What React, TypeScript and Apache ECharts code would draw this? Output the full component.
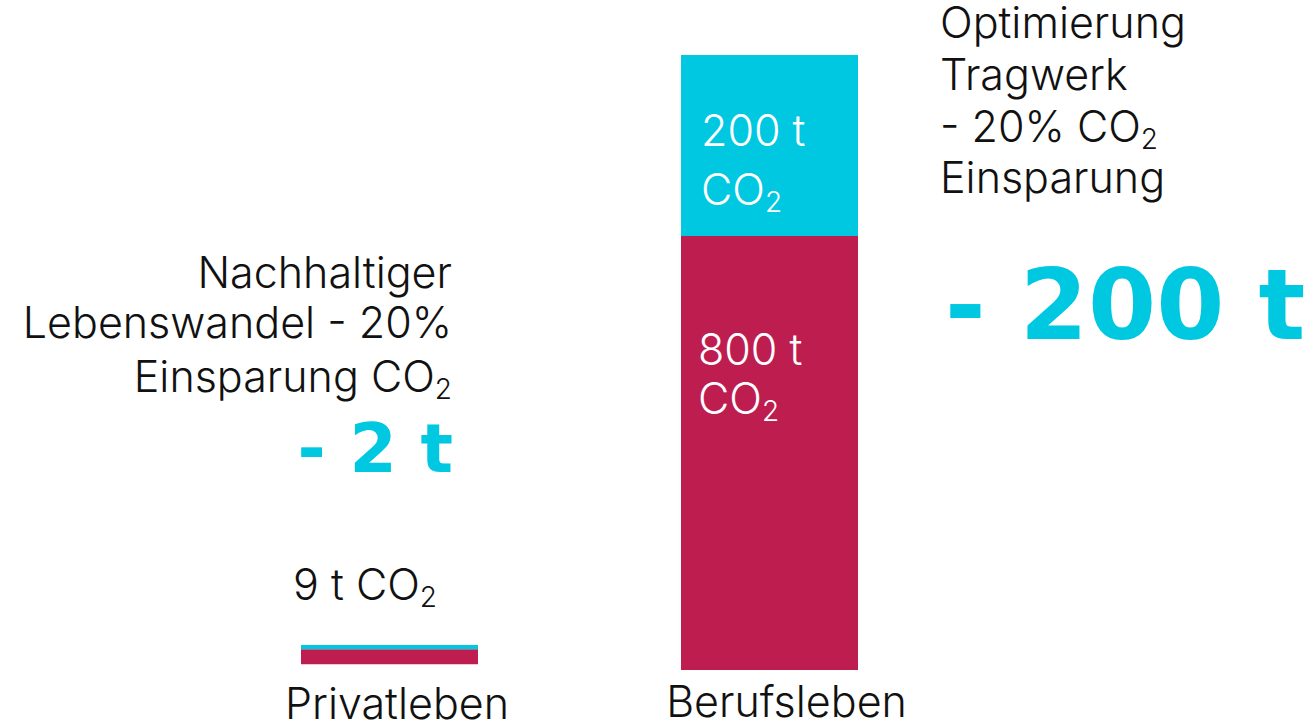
import React, { useEffect, useRef } from "react";
import * as echarts from "echarts";

const categoriesPrivat = ["Privatleben"];
const categoriesBeruf = ["Berufsleben"];
const privatRest = [7];
const privatSaving = [2];
const berufRest = [800];
const berufSaving = [200];
const privatTotalLabel = "9 t";
const berufRestLabel = "800 t";
const berufSavingLabel = "200 t";
const leftNote = ["Nachhaltiger", "Lebenswandel - 20%", "Einsparung CO"];
const leftSaving = "- 2 t";
const rightNote = ["Optimierung", "Tragwerk", "- 20% CO", "Einsparung"];
const rightSaving = "- 200 t";

const CYAN = "#00C8E1";
const CRIMSON = "#BE1D50";
const INK = "#111111";
const FONT = "Inter";
const BOLD = "DejaVu Sans";
const FS = 43;
const FW = 300;

const subStyle = (color: string) => ({
  fontSize: 28,
  fontFamily: FONT,
  fontWeight: FW,
  color,
  fill: color,
  lineHeight: 16,
  padding: [25, 0, 0, 0],
});
const mainStyle = (color: string, lh: number) => ({
  fontSize: FS,
  fontFamily: FONT,
  fontWeight: FW,
  color,
  fill: color,
  lineHeight: lh,
});

const noteLine = (text: string, x: number, y: number, align: string) => ({
  type: "text",
  x,
  y,
  style: {
    text,
    align,
    verticalAlign: "middle",
    rich: { a: mainStyle(INK, 42), s: subStyle(INK) },
  },
});

export default function App() {
  const ref = useRef<HTMLDivElement>(null);
  useEffect(() => {
    if (!ref.current) return;
    const chart = echarts.init(ref.current, undefined, { renderer: "svg" });
    const axisCommon = {
      type: "category" as const,
      axisLine: { show: false },
      axisTick: { show: false },
      splitLine: { show: false },
    };
    const leftCenters = [272.35, 322.35, 376.35];
    const rightCenters = [22.05, 73.65, 126.05, 177.05];
    chart.setOption({
      animation: false,
      backgroundColor: "#ffffff",
      grid: [
        { left: 301, width: 177, top: 645, height: 20 },
        { left: 681, width: 177, top: 55, height: 615 },
      ],
      xAxis: [
        {
          ...axisCommon,
          gridIndex: 0,
          data: categoriesPrivat,
          axisLabel: {
            margin: 20.35,
            fontSize: FS,
            fontWeight: FW,
            lineHeight: 36,
            fontFamily: FONT,
            color: INK,
            padding: [0, 0, 0, 15],
          },
        },
        {
          ...axisCommon,
          gridIndex: 1,
          data: categoriesBeruf,
          axisLabel: {
            margin: 13.05,
            fontSize: FS,
            fontWeight: FW,
            lineHeight: 36,
            fontFamily: FONT,
            color: INK,
            padding: [0, 0, 0, 34],
          },
        },
      ],
      yAxis: [
        { type: "value", gridIndex: 0, min: 0, max: 9, show: false, splitLine: { show: false } },
        { type: "value", gridIndex: 1, min: 320, max: 1000, show: false, splitLine: { show: false } },
      ],
      series: [
        {
          type: "bar",
          xAxisIndex: 0,
          yAxisIndex: 0,
          stack: "p",
          barWidth: 177,
          data: privatRest,
          itemStyle: { color: CRIMSON },
        },
        {
          type: "bar",
          xAxisIndex: 0,
          yAxisIndex: 0,
          stack: "p",
          barWidth: 177,
          data: privatSaving,
          itemStyle: { color: CYAN },
          label: {
            show: true,
            position: [-8, -35.65],
            align: "left",
            verticalAlign: "bottom",
            formatter: `{a|${privatTotalLabel} CO}{s|2}`,
            rich: { a: mainStyle(INK, 50), s: subStyle(INK) },
          },
        },
        {
          type: "bar",
          xAxisIndex: 1,
          yAxisIndex: 1,
          stack: "b",
          barWidth: 177,
          data: berufRest,
          itemStyle: { color: CRIMSON },
          label: {
            show: true,
            position: [17, 137.95],
            align: "left",
            verticalAlign: "middle",
            formatter: `{a|${berufRestLabel}}\n{a|CO}{s|2}`,
            rich: { a: mainStyle("#ffffff", 49), s: subStyle("#ffffff") },
          },
        },
        {
          type: "bar",
          xAxisIndex: 1,
          yAxisIndex: 1,
          stack: "b",
          barWidth: 177,
          data: berufSaving,
          itemStyle: { color: CYAN },
          label: {
            show: true,
            position: [20, 104.85],
            align: "left",
            verticalAlign: "middle",
            formatter: `{a|${berufSavingLabel}}\n{a|CO}{s|2}`,
            rich: { a: mainStyle("#ffffff", 59), s: subStyle("#ffffff") },
          },
        },
      ],
      graphic: [
        noteLine(`{a|${leftNote[0]}}`, 452, leftCenters[0], "right"),
        noteLine(`{a|${leftNote[1]}}`, 452, leftCenters[1], "right"),
        noteLine(`{a|${leftNote[2]}}{s|2}`, 452, leftCenters[2], "right"),
        {
          type: "text",
          x: 453,
          y: 448.5,
          style: {
            text: leftSaving,
            align: "right",
            verticalAlign: "middle",
            fontSize: 68,
            fontWeight: "bold",
            fontFamily: BOLD,
            fill: CYAN,
          },
        },
        noteLine(`{a|${rightNote[0]}}`, 940, rightCenters[0], "left"),
        noteLine(`{a|${rightNote[1]}}`, 940, rightCenters[1], "left"),
        noteLine(`{a|${rightNote[2]}}{s|2}`, 940, rightCenters[2], "left"),
        noteLine(`{a|${rightNote[3]}}`, 940, rightCenters[3], "left"),
        {
          type: "text",
          x: 945,
          y: 305.1,
          style: {
            text: rightSaving,
            align: "left",
            verticalAlign: "middle",
            fontSize: 98,
            fontWeight: "bold",
            fontFamily: BOLD,
            fill: CYAN,
          },
        },
      ],
    });
    return () => chart.dispose();
  }, []);
  return (
    <div
      ref={ref}
      style={{ position: "absolute", left: 0, top: 0, width: 1314, height: 724 }}
    />
  );
}
